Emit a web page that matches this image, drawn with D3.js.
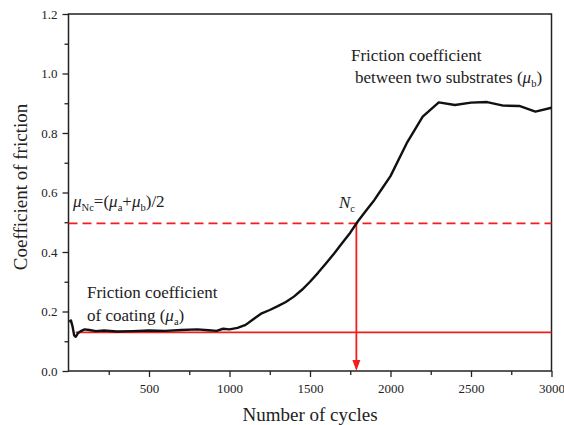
<!DOCTYPE html>
<html><head><meta charset="utf-8">
<script src="https://cdn.jsdelivr.net/npm/d3@7"></script>
<style>body{margin:0;background:#fff}svg{display:block}</style>
</head><body>
<script>
const cycles = [5, 15, 25, 35, 45, 60, 80, 100, 130, 170, 220, 300, 400, 500, 600, 700, 800, 870, 920, 960, 1000, 1050, 1100, 1150, 1200, 1250, 1300, 1350, 1400, 1450, 1500, 1550, 1600, 1650, 1700, 1750, 1800, 1850, 1900, 1950, 2000, 2100, 2200, 2300, 2400, 2500, 2600, 2700, 2800, 2900, 3000];
const friction = [0.165, 0.17, 0.15, 0.12, 0.115, 0.128, 0.135, 0.14, 0.138, 0.134, 0.136, 0.133, 0.134, 0.136, 0.135, 0.138, 0.14, 0.137, 0.135, 0.142, 0.14, 0.145, 0.155, 0.175, 0.194, 0.205, 0.218, 0.232, 0.25, 0.273, 0.3, 0.33, 0.362, 0.395, 0.43, 0.465, 0.505, 0.54, 0.575, 0.615, 0.655, 0.765, 0.855, 0.903, 0.894, 0.902, 0.904, 0.892, 0.891, 0.872, 0.885];
const xTicks = [500, 1000, 1500, 2000, 2500, 3000];
const xMinor = [250, 750, 1250, 1750, 2250, 2750];
const yTicks = [0.0, 0.2, 0.4, 0.6, 0.8, 1.0, 1.2];
const yMinor = [0.1, 0.3, 0.5, 0.7, 0.9, 1.1];
const muA = 0.13, muNc = 0.496, Nc = 1788, muAStart = 45;

const FONT = "'Liberation Serif', 'Times New Roman', serif";
const W = 564, H = 425;
const svg = d3.select("body").append("svg").attr("width", W).attr("height", H).style("font-family", FONT);
const x = d3.scaleLinear().domain([0, 3000]).range([68.5, 551.5]);
const y = d3.scaleLinear().domain([0, 1.2]).range([371, 14]);

const gx = svg.append("g").attr("transform", `translate(0,${y(0)})`);
gx.call(d3.axisBottom(x).tickValues(xMinor).tickSize(4).tickFormat(""));
gx.append("g").call(d3.axisBottom(x).tickValues(xTicks).tickSize(6).tickPadding(7).tickFormat(d3.format("d")));
const gy = svg.append("g").attr("transform", `translate(${x(0)},0)`);
gy.call(d3.axisLeft(y).tickValues(yMinor).tickSize(4).tickFormat(""));
gy.append("g").call(d3.axisLeft(y).tickValues(yTicks).tickSize(6).tickPadding(5).tickFormat(d3.format(".1f")));
svg.selectAll(".domain").remove();
svg.selectAll("g").attr("font-family", null).attr("font-size", null);
svg.selectAll(".tick line").attr("stroke", "#222").attr("stroke-width", 1.3);
svg.selectAll(".tick text").attr("fill", "#222").style("font-size", "13px");

svg.append("rect").attr("x", x(0)).attr("y", y(1.2)).attr("width", x(3000) - x(0)).attr("height", y(0) - y(1.2))
  .attr("fill", "none").attr("stroke", "#222").attr("stroke-width", 1.5);

const RED = "#f21d1d";
svg.append("line").attr("x1", x(0)).attr("x2", x(3000)).attr("y1", y(muNc)).attr("y2", y(muNc))
  .attr("stroke", RED).attr("stroke-width", 1.8).attr("stroke-dasharray", "9,5");
svg.append("line").attr("x1", x(muAStart)).attr("x2", x(3000)).attr("y1", y(muA)).attr("y2", y(muA))
  .attr("stroke", RED).attr("stroke-width", 1.6);
svg.append("line").attr("x1", x(Nc)).attr("x2", x(Nc)).attr("y1", y(muNc)).attr("y2", y(0) - 8)
  .attr("stroke", RED).attr("stroke-width", 1.8);
const ax = x(Nc), ay = y(0);
svg.append("path").attr("d", `M${ax - 4},${ay - 11}L${ax + 4},${ay - 11}L${ax},${ay}Z`).attr("fill", RED);

svg.append("path").datum(cycles.map((c, i) => [c, friction[i]]))
  .attr("d", d3.line().x(d => x(d[0])).y(d => y(d[1])))
  .attr("fill", "none").attr("stroke", "#111").attr("stroke-width", 2.4).attr("stroke-linejoin", "round");

function rich(xp, yp, segs, size) {
  const t = svg.append("text").attr("x", xp).attr("y", yp).attr("fill", "#222").style("font-size", size + "px").style("font-family", FONT);
  let shift = 0;
  segs.forEach(s => {
    const sp = t.append("tspan").text(s.t);
    const target = s.sub ? 4 : 0;
    if (target !== shift) { sp.attr("dy", target - shift); shift = target; }
    if (s.sub) sp.style("font-size", (size * 0.62) + "px");
    if (s.i) sp.style("font-style", "italic");
  });
  return t;
}

rich(351, 61, [{t: "Friction coefficient"}], 17);
rich(355, 83, [{t: "between two substrates ("}, {t: "μ", i: 1}, {t: "b", sub: 1}, {t: ")"}], 17);
rich(87, 298, [{t: "Friction coefficient"}], 17);
rich(87, 321, [{t: "of coating ("}, {t: "μ", i: 1}, {t: "a", sub: 1}, {t: ")"}], 17);
rich(73, 207, [{t: "μ", i: 1}, {t: "Nc", sub: 1}, {t: "=("}, {t: "μ", i: 1}, {t: "a", sub: 1}, {t: "+"}, {t: "μ", i: 1}, {t: "b", sub: 1}, {t: ")/2"}], 17);
rich(339, 208, [{t: "N", i: 1}, {t: "c", sub: 1}], 17);

svg.append("text").attr("x", 310).attr("y", 421).attr("text-anchor", "middle").attr("fill", "#222")
  .style("font-size", "19px").style("font-family", FONT).text("Number of cycles");
svg.append("text").attr("transform", `translate(27,187) rotate(-90)`).attr("text-anchor", "middle").attr("fill", "#222")
  .style("font-size", "19px").style("font-family", FONT).text("Coefficient of friction");
</script>
</body></html>
